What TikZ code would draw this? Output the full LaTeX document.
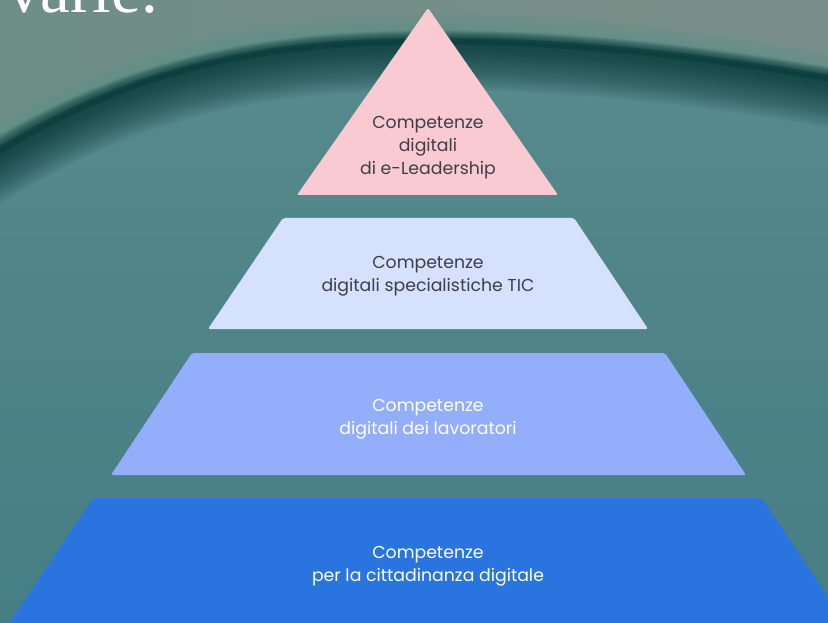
\documentclass[tikz,border=0pt]{standalone}
\usepackage{fontspec}
\setmainfont{Poppins}
\newfontfamily\serifv{Liberation Serif}
\definecolor{bgtop}{HTML}{6E8E86}
\definecolor{bgtopr}{HTML}{7A8E88}
\definecolor{bgmid}{HTML}{598B8C}
\definecolor{bgbot}{HTML}{457E84}
\definecolor{bandc}{HTML}{033434}
\definecolor{hilite}{HTML}{4F9A8A}
\definecolor{pinkc}{HTML}{F9CAD2}
\definecolor{lavc}{HTML}{D6E1FE}
\definecolor{midblue}{HTML}{93AFFB}
\definecolor{deepblue}{HTML}{2A74E0}
\definecolor{txtdark}{HTML}{3E3E48}
\tikzset{
  lvl/.style={rounded corners=2pt},
  lbl/.style={align=center, font=\fontsize{17.3}{23}\selectfont, inner sep=0pt},
  bandcurve/.style={insert path={(-40,174) -- (0,150) .. controls (80,102) and (180,57) .. (330,45) .. controls (480,34) and (650,47) .. (828,78) -- (880,87)}},
}
\begin{document}
\begin{tikzpicture}[x=1pt,y=-1pt]
\useasboundingbox (0,0) rectangle (828,623);
\begin{scope}
\clip (0,0) rectangle (828,623);
% background
\shade[top color=bgmid, bottom color=bgbot] (0,0) rectangle (828,623);
\fill[left color=bgtop, right color=bgtopr] (-40,174) -- (0,150) .. controls (80,102) and (180,57) .. (330,45) .. controls (480,34) and (650,47) .. (828,78) -- (880,87) -- (880,-10) -- (-40,-10) -- cycle;
% highlight above band
\foreach \w in {2,4,...,30}{
  \pgfmathsetmacro\sh{0.45*\w}
  \draw[hilite, line width=\w pt, opacity=0.045, yshift=\sh pt, bandcurve];
}
% soft dark band, spreading downwards
\foreach \w in {2,4,...,60}{
  \pgfmathsetmacro\sh{-0.32*\w}
  \draw[bandc, line width=\w pt, opacity=0.04, yshift=\sh pt, bandcurve];
}
\draw[bandc, line width=7pt, opacity=0.35, bandcurve];
% title fragment
\node[anchor=base west, inner sep=0pt, text=white, font=\serifv\fontsize{67}{67}\selectfont] (title) at (7,13) {varie.};
% pyramid
\fill[pinkc, lvl] (428,8) -- (558,195) -- (297,195) -- cycle;
\fill[lavc, lvl] (283,218) -- (574,218) -- (648,329) -- (208,329) -- cycle;
\fill[midblue, lvl] (192,353) -- (665,353) -- (746,475) -- (111,475) -- cycle;
\fill[deepblue, rounded corners=4pt] (93,498) -- (762,498) -- (845,623) -- (845,640) -- (10,640) -- (10,622) -- cycle;
\end{scope}
\node[lbl, text=txtdark] (t1) at (428,148) {Competenze\\digitali\\di e-Leadership};
\node[lbl, text=txtdark] (t2) at (428,276) {Competenze\\digitali specialistiche TIC};
\node[lbl, text=white] (t3) at (428,419) {Competenze\\digitali dei lavoratori};
\node[lbl, text=white] (t4) at (428,566) {Competenze\\per la cittadinanza digitale};
\end{tikzpicture}
\end{document}
